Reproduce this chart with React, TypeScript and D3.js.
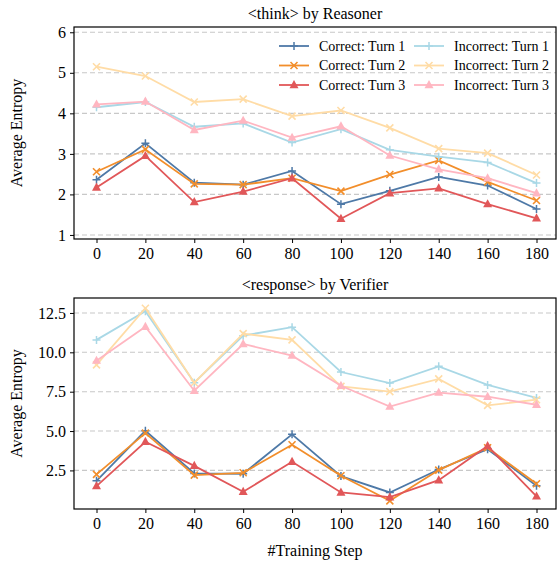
import React, { useEffect, useRef } from 'react';
import * as d3 from 'd3';

const steps = [0, 20, 40, 60, 80, 100, 120, 140, 160, 180];

// <think> by Reasoner
const thinkCorrect1 = [2.36, 3.26, 2.29, 2.24, 2.58, 1.76, 2.09, 2.43, 2.22, 1.64];
const thinkCorrect2 = [2.56, 3.11, 2.26, 2.24, 2.40, 2.08, 2.49, 2.84, 2.31, 1.85];
const thinkCorrect3 = [2.17, 2.95, 1.81, 2.07, 2.40, 1.40, 2.03, 2.15, 1.76, 1.41];
const thinkIncorrect1 = [4.15, 4.28, 3.67, 3.75, 3.28, 3.61, 3.10, 2.93, 2.79, 2.28];
const thinkIncorrect2 = [5.15, 4.92, 4.28, 4.35, 3.93, 4.07, 3.64, 3.13, 3.02, 2.48];
const thinkIncorrect3 = [4.22, 4.29, 3.59, 3.82, 3.40, 3.68, 2.96, 2.62, 2.40, 2.03];

// <response> by Verifier
const respCorrect1 = [1.84, 5.02, 2.31, 2.29, 4.79, 2.14, 1.10, 2.56, 3.85, 1.52];
const respCorrect2 = [2.25, 4.87, 2.20, 2.35, 4.13, 2.16, 0.57, 2.52, 3.94, 1.65];
const respCorrect3 = [1.50, 4.32, 2.79, 1.14, 3.05, 1.10, 0.80, 1.88, 4.05, 0.85];
const respIncorrect1 = [10.79, 12.61, 8.07, 11.06, 11.60, 8.75, 8.05, 9.11, 7.93, 7.10];
const respIncorrect2 = [9.20, 12.80, 8.07, 11.19, 10.79, 7.84, 7.50, 8.31, 6.63, 6.99];
const respIncorrect3 = [9.47, 11.62, 7.56, 10.53, 9.79, 7.88, 6.55, 7.44, 7.18, 6.67];

const seriesNames = [
  'Correct: Turn 1', 'Correct: Turn 2', 'Correct: Turn 3',
  'Incorrect: Turn 1', 'Incorrect: Turn 2', 'Incorrect: Turn 3',
];
const seriesColors = ['#4e79a7', '#f28e2b', '#e15759', '#a9d8e6', '#ffdca6', '#ffb6c1'];
const seriesMarkers = ['plus', 'cross', 'triangle', 'plus', 'cross', 'triangle'];

const thinkTicks = [1, 2, 3, 4, 5, 6];
const respTicks = [2.5, 5.0, 7.5, 10.0, 12.5];

const FONT = 'Liberation Serif, Times New Roman, serif';

const drawMarker = (g, kind, x, y, color) => {
  if (kind === 'plus') {
    g.append('path').attr('d', `M${x - 4},${y}H${x + 4}M${x},${y - 4}V${y + 4}`)
      .attr('stroke', color).attr('stroke-width', 1.5);
  } else if (kind === 'cross') {
    g.append('path').attr('d', `M${x - 3.5},${y - 3.5}L${x + 3.5},${y + 3.5}M${x - 3.5},${y + 3.5}L${x + 3.5},${y - 3.5}`)
      .attr('stroke', color).attr('stroke-width', 1.6);
  } else {
    g.append('path').attr('d', `M${x},${y - 5}L${x + 4.5},${y + 3.2}L${x - 4.5},${y + 3.2}Z`)
      .attr('fill', color);
  }
};

const drawPanel = (svg, box, domain, ticks, fmt, series, title, showLegend, showXLabel) => {
  const x = d3.scaleLinear().domain([0, 180]).range([box.left + 22.5, box.left + 462.5]);
  const y = d3.scaleLinear().domain(domain).range([box.bottom, box.top]);
  const g = svg.append('g');

  // grid
  g.selectAll('.grid').data(ticks).enter().append('line')
    .attr('x1', box.left).attr('x2', box.right)
    .attr('y1', d => y(d)).attr('y2', d => y(d))
    .attr('stroke', '#c8c8c8').attr('stroke-width', 1.1)
    .attr('stroke-dasharray', '5,3');

  // lines
  const line = d3.line().x((d, i) => x(steps[i])).y(d => y(d));
  series.forEach((vals, k) => {
    g.append('path').datum(vals).attr('d', line)
      .attr('fill', 'none').attr('stroke', seriesColors[k]).attr('stroke-width', 1.8);
    vals.forEach((v, i) => drawMarker(g, seriesMarkers[k], x(steps[i]), y(v), seriesColors[k]));
  });

  // axes
  const yAxis = g.append('g').attr('transform', `translate(${box.left},0)`)
    .call(d3.axisLeft(y).tickValues(ticks).tickFormat(fmt).tickSize(4).tickPadding(4));
  const xAxis = g.append('g').attr('transform', `translate(0,${box.bottom})`)
    .call(d3.axisBottom(x).tickValues(steps).tickSize(4).tickPadding(5));
  [yAxis, xAxis].forEach(a => {
    a.attr('font-family', null).attr('font-size', null);
    a.select('.domain').remove();
    a.selectAll('line').attr('stroke', '#000').attr('stroke-width', 1);
    a.selectAll('text').attr('fill', '#000').attr('font-family', FONT).attr('font-size', 16);
  });

  g.append('rect').attr('x', box.left).attr('y', box.top)
    .attr('width', box.right - box.left).attr('height', box.bottom - box.top)
    .attr('fill', 'none').attr('stroke', '#000').attr('stroke-width', 1.2);

  g.append('text').attr('x', (box.left + box.right) / 2).attr('y', box.top - 8)
    .attr('text-anchor', 'middle').attr('font-family', FONT).attr('font-size', 16)
    .text(title);

  g.append('text')
    .attr('transform', `translate(16,${(box.top + box.bottom) / 2}) rotate(-90)`)
    .attr('text-anchor', 'middle').attr('dy', '0.35em')
    .attr('font-family', FONT).attr('font-size', 16)
    .text('Average Entropy');

  if (showXLabel) {
    g.append('text').attr('x', (box.left + box.right) / 2).attr('y', box.bottom + 47)
      .attr('text-anchor', 'middle').attr('font-family', FONT).attr('font-size', 16)
      .text('#Training Step');
  }

  if (showLegend) {
    const lg = g.append('g');
    seriesNames.forEach((name, k) => {
      const col = Math.floor(k / 3);
      const row = k % 3;
      const lx = col === 0 ? 279 : 414;
      const ly = box.top + 19 + row * 19.5;
      lg.append('line').attr('x1', lx).attr('x2', lx + 30).attr('y1', ly).attr('y2', ly)
        .attr('stroke', seriesColors[k]).attr('stroke-width', 1.8);
      drawMarker(lg, seriesMarkers[k], lx + 15, ly, seriesColors[k]);
      lg.append('text').attr('x', lx + 40).attr('y', ly).attr('dy', '0.35em')
        .attr('font-family', FONT).attr('font-size', 14).text(name);
    });
  }
};

const App = () => {
  const ref = useRef(null);

  useEffect(() => {
    const svg = d3.select(ref.current);
    svg.selectAll('*').remove();

    drawPanel(svg, { left: 74, right: 556, top: 27, bottom: 239 },
      [0.9, 6.13], thinkTicks, d3.format('d'),
      [thinkCorrect1, thinkCorrect2, thinkCorrect3, thinkIncorrect1, thinkIncorrect2, thinkIncorrect3],
      '<think> by Reasoner', true, false);

    drawPanel(svg, { left: 74, right: 556, top: 298, bottom: 509 },
      [0.05, 13.45], respTicks, d3.format('.1f'),
      [respCorrect1, respCorrect2, respCorrect3, respIncorrect1, respIncorrect2, respIncorrect3],
      '<response> by Verifier', false, true);
  }, []);

  return (
    <svg ref={ref} width={557} height={562} fontFamily={FONT}
      style={{ position: 'absolute', left: 0, top: 0 }} />
  );
};

export default App;
